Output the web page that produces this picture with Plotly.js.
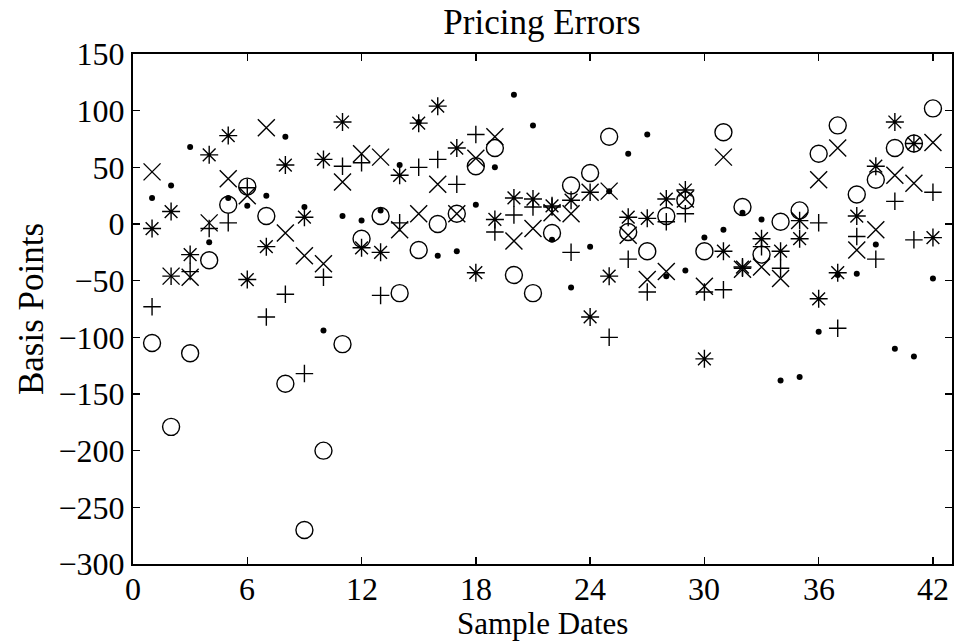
<!DOCTYPE html>
<html>
<head>
<meta charset="utf-8">
<script src="https://cdn.plot.ly/plotly-3.0.1.min.js"></script>
<style>
  html, body { margin: 0; padding: 0; background: #fff; }
  #chart { width: 955px; height: 642px; }
</style>
</head>
<body>
<div id="chart"></div>
<script>
// Sample dates (x positions)
const dates = [1,2,3,4,5,6,7,8,9,10,11,12,13,14,15,16,17,18,19,20,21,22,23,24,25,26,27,28,29,30,31,32,33,34,35,36,37,38,39,40,41,42];

// Pricing errors in basis points, one array per marker series
const circleErr = [-105,-179,-114,-32,17,33,7,-141,-270,-200,-106,-13,7,-61,-23,0,9,51,67,-45,-61,-8,34,45,77,-7,-24,7,21,-24,81,15,-27,2,12,62,87,26,39,67,71,102];
const xErr      = [46,-46,-47,1,40,25,85,-8,-28,-35,37,62,59,-5,9,35,9,58,77,-15,-4,10,9,28,29,-10,-49,-42,22,-55,59,-40,-38,-48,3,39,67,-23,-5,43,36,72];
const plusErr   = [-73,-46,-42,-4,1,32,-82,-62,-132,-47,51,54,-63,1,50,57,35,79,-7,8,15,15,-25,28,-100,-31,-60,2,9,-60,-58,-39,-20,-39,3,1,-92,-11,-31,20,-14,28];
const starErr   = [-4,11,-27,61,78,-49,-20,52,6,57,90,-21,-25,43,89,104,67,-43,4,23,22,16,21,-82,-46,6,5,22,30,-119,-24,-38,-13,-24,-13,-66,-43,7,51,90,71,-12];
const dotErr    = [23,34,68,-16,23,16,25,77,15,-94,7,3,12,52,90,-28,-24,17,50,114,87,-14,-56,-20,29,62,79,-46,-41,-12,-5,10,4,-138,-135,-95,-45,-44,-18,-110,-117,-48];

// Axis ticks
const xTicks = [0,6,12,18,24,30,36,42];
const yTicks = [-300,-250,-200,-150,-100,-50,0,50,100,150];

const lineStyle = {color: '#000', width: 1.4};

const traces = [
  {x: dates, y: circleErr, type: 'scatter', mode: 'markers', name: 'o',
   marker: {symbol: 'circle-open', size: 17, color: '#000', line: lineStyle}},
  {x: dates, y: xErr, type: 'scatter', mode: 'markers', name: 'x',
   marker: {symbol: 'x-thin-open', size: 17, color: '#000', line: lineStyle}},
  {x: dates, y: plusErr, type: 'scatter', mode: 'markers', name: '+',
   marker: {symbol: 'cross-thin-open', size: 12.5, color: '#000', line: lineStyle}},
  {x: dates, y: starErr, type: 'scatter', mode: 'markers', name: '*',
   marker: {symbol: 'asterisk-open', size: 15, color: '#000', line: lineStyle}},
  {x: dates, y: dotErr, type: 'scatter', mode: 'markers', name: '.',
   marker: {symbol: 'circle', size: 6, color: '#000', line: {width: 0}}}
];

const font = 'Liberation Serif, Times New Roman, serif';

// x tick labels placed close under the axis (as in the reference)
const xTickLabels = xTicks.map(t => ({
  text: String(t), xref: 'x', yref: 'paper', x: t, y: -0.0137,
  xanchor: 'center', yanchor: 'top', showarrow: false, borderpad: 0, borderwidth: 0,
  font: {family: font, size: 32, color: '#000'}
}));

const layout = {
  width: 955, height: 642,
  margin: {l: 133, r: 3, t: 54, b: 78},
  paper_bgcolor: '#fff', plot_bgcolor: '#fff',
  showlegend: false,
  font: {family: font, color: '#000', size: 32},
  title: {text: 'Pricing Errors', font: {family: font, size: 35, color: '#000'},
          x: 0.5675, xanchor: 'center', xref: 'container', y: 0.966, yanchor: 'middle', yref: 'container'},
  xaxis: {
    range: [0, 43], tickvals: xTicks, showticklabels: false,
    ticks: 'inside', ticklen: 7, tickwidth: 1.5, tickcolor: '#000',
    showline: true, linewidth: 2, linecolor: '#000', mirror: 'ticks',
    showgrid: false, zeroline: false
  },
  yaxis: {
    range: [-300, 150], tickvals: yTicks,
    ticks: 'inside', ticklen: 7, tickwidth: 1.5, tickcolor: '#000',
    showline: true, linewidth: 2, linecolor: '#000', mirror: 'ticks',
    showgrid: false, zeroline: false,
    tickfont: {family: font, size: 32, color: '#000'},
    title: {text: 'Basis Points', font: {family: font, size: 35, color: '#000'}, standoff: 4}
  },
  annotations: xTickLabels.concat([
    {text: 'Sample Dates', xref: 'paper', yref: 'paper', x: 0.5, y: -0.151,
     xanchor: 'center', yanchor: 'bottom', showarrow: false, borderpad: 0, borderwidth: 0,
     font: {family: font, size: 31, color: '#000'}}
  ])
};

Plotly.newPlot('chart', traces, layout, {displayModeBar: false, staticPlot: true});
</script>
</body>
</html>
